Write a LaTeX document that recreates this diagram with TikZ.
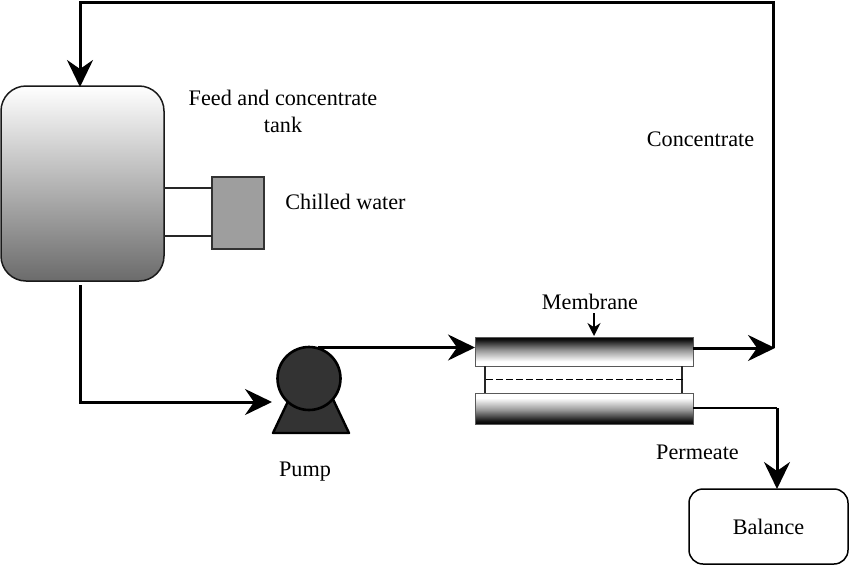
\documentclass[tikz,border=0pt]{standalone}
\usepackage{fontspec}
\setmainfont{Liberation Serif}
\usetikzlibrary{arrows.meta,positioning}
\pgfdeclareverticalshading{memupshade}{100bp}{color(0bp)=(white);color(25bp)=(white);color(33bp)=(white);color(52bp)=(black!40);color(70bp)=(black!92);color(75bp)=(black);color(100bp)=(black)}
\pgfdeclareverticalshading{memdownshade}{100bp}{color(0bp)=(black);color(25bp)=(black);color(30bp)=(black!92);color(48bp)=(black!40);color(67bp)=(white);color(75bp)=(white);color(100bp)=(white)}
\tikzset{
  lbl/.style={inner sep=0pt,font=\fontsize{22.2}{27}\selectfont,text=black},
  flow/.style={draw=black,line width=3pt,-{Stealth[length=27pt,width=26pt,inset=9pt]}},
  thinl/.style={draw=black!85,line width=1.4pt},
  tank/.style={draw=black!90,line width=1.5pt,rounded corners=25pt,top color=white,bottom color=black!58,minimum width=163pt,minimum height=195pt,inner sep=0pt},
  chiller/.style={draw=black!80,line width=1.4pt,fill=black!38,minimum width=52pt,minimum height=72pt,inner sep=0pt},
  memup/.style={draw=black!65,line width=1pt,shading=memupshade,minimum width=218pt,minimum height=29pt,inner sep=0pt},
  memdown/.style={draw=black!65,line width=1pt,shading=memdownshade,minimum width=218pt,minimum height=31pt,inner sep=0pt},
  balancebox/.style={draw=black,line width=1.5pt,rounded corners=14pt,minimum width=159pt,minimum height=75pt,inner sep=0pt,font=\fontsize{22.2}{27}\selectfont},
  pumpbody/.style={circle,draw=black,line width=2.6pt,fill=black!80,minimum size=63pt,inner sep=0pt},
}
\begin{document}
\begin{tikzpicture}[x=1pt,y=-1pt]
\useasboundingbox (0,0) rectangle (849,565);
% equipment
\node[tank] (tank) at (82.5,183.5) {};
\node[chiller] (chill) at (238,213) {};
\node[memup] (mu) at (584,351.5) {};
\node[memdown] (md) at (584,408.5) {};
\node[balancebox] (bal) at (768.5,526.5) {Balance};
\draw[draw=black,line width=2.4pt,fill=black!80,line join=round] (273,433) -- (291,395) -- (331,395) -- (349,433) -- cycle;
\node[pumpbody] (pump) at (309,378.5) {};
% membrane internals
\coordinate (mua) at (485,366); \coordinate (mda) at (485,393);
\coordinate (mub) at (682,366); \coordinate (mdb) at (682,393);
\draw[thinl] (mua) -- (mda);
\draw[thinl] (mub) -- (mdb);
\coordinate (da) at (486,379.5); \coordinate (db) at (683,379.5);
\draw[draw=black,line width=1.4pt,dash pattern=on 7pt off 3pt] (da) -- (db);
% chiller links
\coordinate (c1) at (164,188); \coordinate (c2) at (212,188);
\coordinate (c3) at (164,236); \coordinate (c4) at (212,236);
\draw[thinl] (c1) -- (c2);
\draw[thinl] (c3) -- (c4);
% flows
\coordinate (corner1) at (773,2); \coordinate (corner2) at (80,2);
\coordinate (cjoin) at (773,348); \coordinate (tanktop) at (80,87);
\draw[flow,line join=miter] (cjoin) -- (corner1) -- (corner2) -- (tanktop);
\coordinate (mo) at (693,348); \coordinate (mtip) at (775,348);
\draw[flow] (mo) -- (mtip);
\coordinate (pin) at (318,347.5); \coordinate (min) at (475,347.5);
\draw[flow] (pin) -- (min);
\coordinate (tb) at (80,285); \coordinate (tc) at (80,402); \coordinate (pe) at (272,402);
\draw[flow] (tb) -- (tc) -- (pe);
\coordinate (po) at (693,408); \coordinate (pc) at (777,408); \coordinate (be) at (777,489);
\draw[draw=black,line width=2.2pt] (po) -- (pc);
\draw[flow] (pc) -- (be);
% membrane pointer
\node[lbl] (mlabel) at (590,302) {Membrane};
\coordinate (pa) at (594,313); \coordinate (pb) at (594,336);
\draw[draw=black,line width=1.6pt,-{Stealth[length=13pt,width=13pt]}] (pa) -- (pb);
% labels
\node[lbl,align=center] (feed) at (283,111) {Feed and concentrate\\tank};
\node[lbl] (cw) at (345.5,202) {Chilled water};
\node[lbl] (conc) at (700.5,139) {Concentrate};
\node[lbl] (pl) at (305,472) {Pump};
\node[lbl] (perm) at (697.5,452) {Permeate};
\end{tikzpicture}
\end{document}
